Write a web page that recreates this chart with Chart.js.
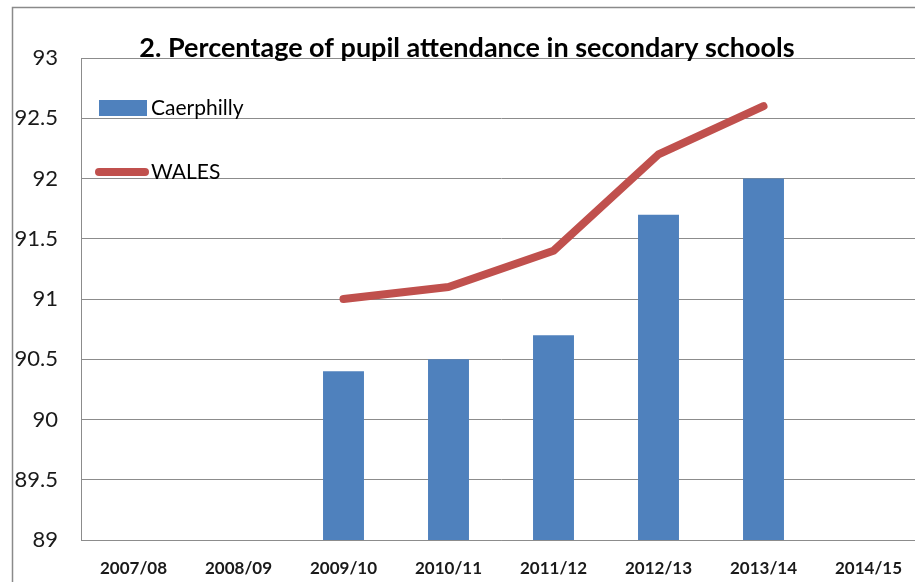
<!DOCTYPE html>
<html>
<head>
<meta charset="utf-8">
<script src="https://cdn.jsdelivr.net/npm/chart.js@4"></script>
<style>
  html, body { margin: 0; padding: 0; background: #fff; overflow: hidden; }
  #wrap { position: relative; width: 930px; height: 582px; }
</style>
</head>
<body>
<div id="wrap"><canvas id="c" width="930" height="582"></canvas></div>
<script>
// School years shown on the x axis
const years = ['2007/08', '2008/09', '2009/10', '2010/11', '2011/12', '2012/13', '2013/14', '2014/15'];
// Attendance (%) for Caerphilly secondary schools
const caerphilly = [null, null, 90.4, 90.5, 90.7, 91.7, 92.0, null];
// Attendance (%) across Wales
const wales = [null, null, 91.0, 91.1, 91.4, 92.2, 92.6, null];
// Value axis range and step
const yMin = 89, yMax = 93, yStep = 0.5;
const chartTitle = '2. Percentage of pupil attendance in secondary schools';

const FONT = 'Lato, "Open Sans", sans-serif';
const BLUE = '#4F81BD';
const RED = '#C0504D';
const GRID = '#8c8c8c';

// Outer frame, title and in-plot legend
const decor = {
  id: 'decor',
  beforeDraw(chart) {
    const ctx = chart.ctx;
    ctx.save();
    ctx.strokeStyle = '#8a8a8a';
    ctx.lineWidth = 1.5;
    ctx.beginPath();
    ctx.moveTo(12.5, 600);
    ctx.lineTo(12.5, 7.5);
    ctx.lineTo(940, 7.5);
    ctx.stroke();
    ctx.restore();
  },
  afterDraw(chart) {
    const ctx = chart.ctx;
    ctx.save();
    // title
    ctx.fillStyle = '#000';
    ctx.font = 'bold 27px ' + FONT;
    ctx.textAlign = 'center';
    ctx.textBaseline = 'alphabetic';
    ctx.fillText(chartTitle, 467, 57);

    // legend
    const ds = chart.data.datasets;
    ctx.font = '21px ' + FONT;
    ctx.textAlign = 'left';
    ctx.textBaseline = 'middle';
    ctx.fillStyle = ds[0].backgroundColor;
    ctx.fillRect(99, 100, 48, 16);
    ctx.fillStyle = '#000';
    ctx.fillText(ds[0].label, 151, 108);

    ctx.strokeStyle = ds[1].borderColor;
    ctx.lineWidth = 8;
    ctx.lineCap = 'round';
    ctx.beginPath();
    ctx.moveTo(99, 172);
    ctx.lineTo(145, 172);
    ctx.stroke();
    ctx.fillStyle = '#000';
    ctx.fillText(ds[1].label, 151, 172);
    ctx.restore();
  }
};

new Chart(document.getElementById('c'), {
  type: 'bar',
  data: {
    labels: years,
    datasets: [
      {
        type: 'bar',
        label: 'Caerphilly',
        data: caerphilly,
        backgroundColor: BLUE,
        categoryPercentage: 0.78,
        barPercentage: 0.5,
        order: 2
      },
      {
        type: 'line',
        label: 'WALES',
        data: wales,
        borderColor: RED,
        backgroundColor: RED,
        borderWidth: 8,
        borderCapStyle: 'round',
        borderJoinStyle: 'round',
        pointRadius: 0,
        tension: 0,
        spanGaps: false,
        order: 1
      }
    ]
  },
  options: {
    responsive: false,
    animation: false,
    layout: { padding: { top: 58, right: 9, bottom: 0, left: 0 } },
    plugins: {
      legend: { display: false },
      title: { display: false },
      tooltip: { enabled: false }
    },
    scales: {
      x: {
        grid: { display: false, drawTicks: false },
        border: { display: true, color: GRID, width: 1 },
        ticks: {
          color: '#1a1a1a',
          font: { family: FONT, size: 17, weight: 'bold' },
          padding: 18,
          maxRotation: 0,
          autoSkip: false
        },
        afterFit(scale) { scale.height = 42; }
      },
      y: {
        min: yMin,
        max: yMax,
        grid: { color: GRID, lineWidth: 1, drawTicks: false },
        border: { display: true, color: GRID, width: 1 },
        ticks: {
          stepSize: yStep,
          color: '#1a1a1a',
          font: { family: FONT, size: 22 },
          padding: 23,
          callback: (v) => String(v)
        },
        afterFit(scale) { scale.width = 81; }
      }
    }
  },
  plugins: [decor]
});
</script>
</body>
</html>
